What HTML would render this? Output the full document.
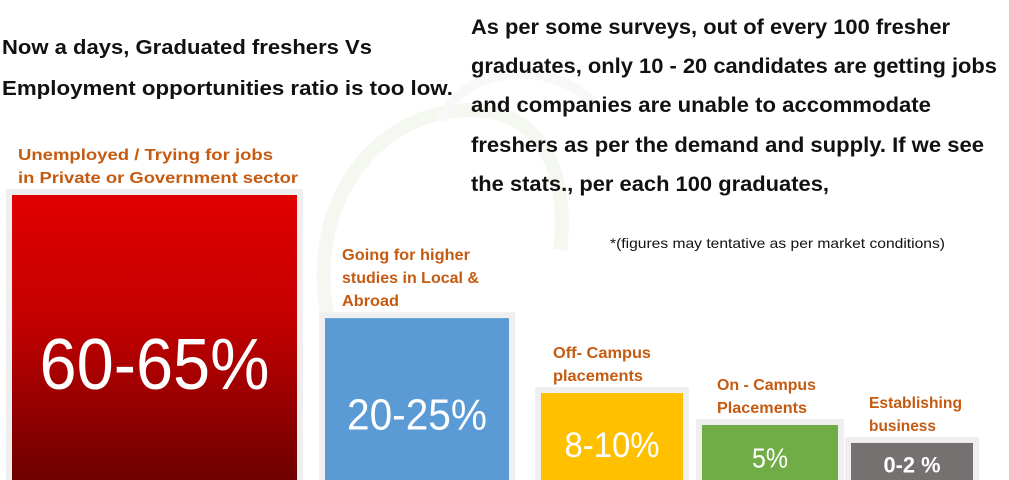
<!DOCTYPE html>
<html><head><meta charset="utf-8">
<style>
html,body{margin:0;padding:0;background:#fff;width:1009px;height:480px;overflow:hidden}
svg{display:block;font-family:"Liberation Sans",sans-serif}
</style></head>
<body>
<svg id="chart" width="1009" height="480" viewBox="0 0 1009 480">
<defs>
<linearGradient id="redGrad" x1="0" y1="0" x2="0" y2="1">
<stop offset="0" stop-color="#e00000"/><stop offset="0.45" stop-color="#c20000"/><stop offset="1" stop-color="#6e0000"/>
</linearGradient>
</defs>
<g fill="none" stroke="#f5f8f1" stroke-width="14">
<path d="M330 330 C 300 200, 380 110, 470 110 C 540 110, 570 170, 560 250"/>
<path d="M600 110 C 560 60, 470 60, 440 120" stroke="#f8f8f8" stroke-width="10"/>
</g>
<g font-weight="bold" font-size="20" fill="#111">
<text x="2" y="54" textLength="370" lengthAdjust="spacingAndGlyphs">Now a days, Graduated freshers Vs</text>
<text x="2" y="95" textLength="451" lengthAdjust="spacingAndGlyphs">Employment opportunities ratio is too low.</text>
</g>
<g font-weight="bold" font-size="21" fill="#111">
<text x="471" y="34" textLength="479" lengthAdjust="spacingAndGlyphs">As per some surveys, out of every 100 fresher</text>
<text x="471" y="73" textLength="526" lengthAdjust="spacingAndGlyphs">graduates, only 10 - 20 candidates are getting jobs</text>
<text x="471" y="112" textLength="460" lengthAdjust="spacingAndGlyphs">and companies are unable to accommodate</text>
<text x="471" y="152" textLength="513" lengthAdjust="spacingAndGlyphs">freshers as per the demand and supply. If we see</text>
<text x="471" y="191" textLength="358" lengthAdjust="spacingAndGlyphs">the stats., per each 100 graduates,</text>
</g>
<text x="610" y="248" font-size="14" fill="#111" textLength="335" lengthAdjust="spacingAndGlyphs">*(figures may tentative as per market conditions)</text>
<g id="bars"></g>
</svg>
<script>
const categories = [["Unemployed / Trying for jobs","in Private or Government sector"],["Going for higher","studies in Local &","Abroad"],["Off- Campus","placements"],["On - Campus","Placements"],["Establishing","business"]];
const valueLabels = ["60-65%","20-25%","8-10%","5%","0-2 %"];
const barSizes = [100, 56.8, 30.5, 19.3, 13.0];
const colors = ["url(#redGrad)","#5b9bd5","#ffc000","#70ad47","#767171"];
const labelWidths = [[255,280],[128,137,57],[98,90],[99,90],[93,67]];
const valueWidths = [230,140,95,36,57];
const ns = "http://www.w3.org/2000/svg";
const base = 480, maxH = 285;
function yScale(v){ return base - v/100*maxH; }
const xLeft = [12,325,541,702,851], xRight=[297,509,683,838,973];
const fontSizes=[72,44,35,28,22];
const g = document.getElementById('bars');
barSizes.forEach((v,i)=>{
  const top = yScale(v);
  const frame = document.createElementNS(ns,'rect');
  
  
  frame.setAttribute('x',xLeft[i]-6);frame.setAttribute('y',top-6);
  frame.setAttribute('width',xRight[i]-xLeft[i]+12);frame.setAttribute('height',base-top+6);
  frame.setAttribute('fill','#efefef');g.appendChild(frame);
  const r = document.createElementNS(ns,'rect');
  
  
  r.setAttribute('x',xLeft[i]);r.setAttribute('y',top);
  r.setAttribute('width',xRight[i]-xLeft[i]);r.setAttribute('height',base-top);
  r.setAttribute('fill',colors[i]);g.appendChild(r);
  const t = document.createElementNS(ns,'text');
  
  
  t.setAttribute('x',(xLeft[i]+xRight[i])/2);
  t.setAttribute('y',top+(base-top)*0.59+fontSizes[i]*0.36);
  t.setAttribute('text-anchor','middle');t.setAttribute('fill','#fff');
  t.setAttribute('font-size',fontSizes[i]);
  t.setAttribute('textLength',valueWidths[i]);
  t.setAttribute('lengthAdjust','spacingAndGlyphs');
  if(i===4) t.setAttribute('font-weight','bold');
  t.textContent=valueLabels[i];g.appendChild(t);
  const lines = categories[i];
  const lx = [18,342,553,717,869][i];
  lines.forEach((line,j)=>{
    const l = document.createElementNS(ns,'text');
    
    
    l.setAttribute('x',lx);
    l.setAttribute('y',top-12-(lines.length-1-j)*23);
    l.setAttribute('font-size','16');l.setAttribute('font-weight','bold');
    l.setAttribute('fill','#c55a11');
    l.setAttribute('textLength',labelWidths[i][j]);
    l.setAttribute('lengthAdjust','spacingAndGlyphs');
    l.textContent=line;g.appendChild(l);
  });
});
</script>
</body></html>
